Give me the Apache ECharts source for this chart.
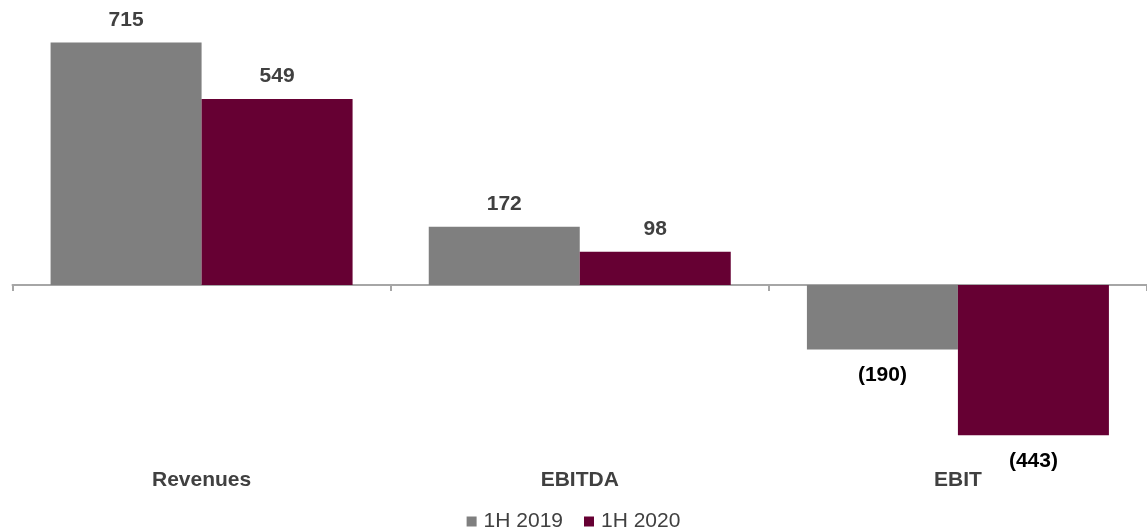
<!DOCTYPE html>
<html>
<head>
<meta charset="utf-8">
<script src="https://cdn.jsdelivr.net/npm/echarts@6/dist/echarts.min.js"></script>
<style>
html,body{margin:0;padding:0;background:#fff;}
#chart{width:1147px;height:531px;}
</style>
</head>
<body>
<div id="chart"></div>
<script>
const categories = ['Revenues', 'EBITDA', 'EBIT'];
const seriesNames = ['1H 2019', '1H 2020'];
const values2019 = [715, 172, -190];
const values2020 = [549, 98, -443];
const colors = ['#7f7f7f', '#660033'];

function fmt(v) { return v < 0 ? '(' + Math.abs(v) + ')' : String(v); }

function makeData(arr) {
  return arr.map(v => ({
    value: v,
    label: v < 0
      ? { position: 'bottom', distance: 15.5, color: '#000000' }
      : { position: 'top', distance: 12, color: '#404040' }
  }));
}

const FONT = 'Liberation Sans, Arial, sans-serif';
const chart = echarts.init(document.getElementById('chart'));
chart.setOption({
  animation: false,
  textStyle: { fontFamily: FONT },
  grid: { left: 12.5, right: 0, top: 13.8, bottom: 76.5, containLabel: false, outerBoundsMode: 'none' },
  legend: {
    data: seriesNames,
    top: 506,
    left: 'center',
    itemWidth: 10,
    itemHeight: 10,
    itemGap: 21,
    icon: 'rect',
    textStyle: { fontSize: 21, color: '#404040', fontFamily: FONT, padding: [0, 0, 0, 2] }
  },
  xAxis: [
    {
      type: 'category',
      data: categories,
      axisLine: { show: true, onZero: true, lineStyle: { color: '#a6a6a6', width: 2 } },
      axisTick: { show: true, length: 6, lineStyle: { color: '#a6a6a6', width: 2 } },
      axisLabel: { show: false },
      splitLine: { show: false }
    },
    {
      type: 'category',
      data: categories,
      position: 'bottom',
      axisLine: { show: false, onZero: false },
      axisTick: { show: false },
      axisLabel: { show: true, margin: 15, fontSize: 21, fontWeight: 'bold', color: '#404040', fontFamily: FONT },
      splitLine: { show: false }
    }
  ],
  yAxis: {
    type: 'value',
    min: -500,
    max: 800,
    show: false,
    splitLine: { show: false }
  },
  series: [
    {
      name: seriesNames[0],
      type: 'bar',
      barWidth: 151,
      barGap: '0%',
      itemStyle: { color: colors[0] },
      label: { show: true, fontSize: 21, fontWeight: 'bold', formatter: p => fmt(p.value), fontFamily: FONT },
      data: makeData(values2019)
    },
    {
      name: seriesNames[1],
      type: 'bar',
      barWidth: 151,
      barGap: '0%',
      itemStyle: { color: colors[1] },
      label: { show: true, fontSize: 21, fontWeight: 'bold', formatter: p => fmt(p.value), fontFamily: FONT },
      data: makeData(values2020)
    }
  ]
});
</script>
</body>
</html>
